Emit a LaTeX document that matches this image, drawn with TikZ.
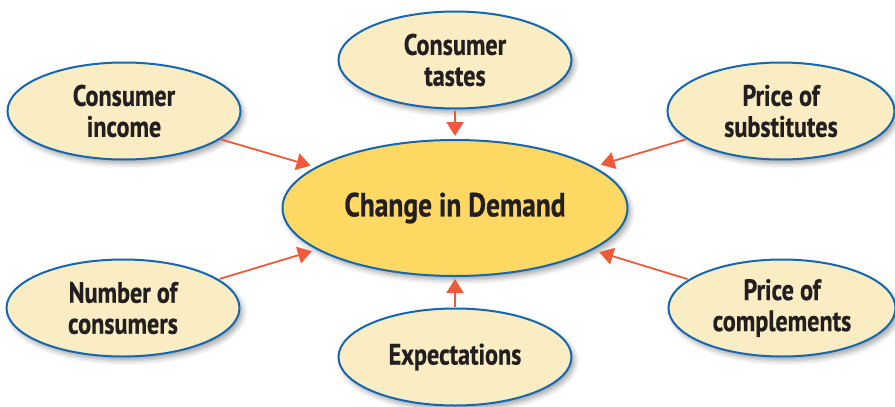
\documentclass[tikz,border=0pt]{standalone}
\usepackage{fontspec}
\setmainfont{PT Sans}[FakeStretch=0.82, BoldFeatures={FakeBold=0.6}]
\usetikzlibrary{shapes.geometric,arrows.meta,shadows.blur}
\definecolor{ringblue}{HTML}{1467B0}
\definecolor{cream}{HTML}{FBEDC3}
\definecolor{gold}{HTML}{FDD964}
\definecolor{arrowred}{HTML}{EE5A3A}
\definecolor{inkdark}{HTML}{231F20}
\tikzset{
  factor/.style={ellipse, draw=ringblue, line width=2pt, fill=cream,
    minimum width=233pt, minimum height=97pt, inner sep=0pt,
    align=center, text=inkdark,
    font=\bfseries\fontsize{29.5}{31}\selectfont,
    blur shadow={shadow xshift=3pt, shadow yshift=-4pt, shadow blur radius=5pt, shadow opacity=35}},
  hub/.style={factor, fill=gold, minimum width=345pt, minimum height=136pt,
    font=\bfseries\fontsize{33.5}{36}\selectfont},
  link/.style={draw=arrowred, line width=1.8pt,
    -{Triangle[length=14pt,width=17pt]}, shorten <=1pt, shorten >=5pt}
}
\begin{document}
\begin{tikzpicture}[x=1pt,y=-1pt]
\useasboundingbox (0,0) rectangle (895,407);
\node[hub] (cid) at (455,208) {Change in Demand};
\node[factor] (inc) at (124,111) {Consumer\\income};
\node[factor] (tas) at (455,60) {Consumer\\tastes};
\node[factor, minimum width=227pt] (sub) at (781,111) {Price of\\substitutes};
\node[factor] (num) at (123,308) {Number of\\consumers};
\node[factor] (exp) at (455,357) {Expectations};
\node[factor, minimum width=227pt] (cmp) at (782,308) {Price of\\complements};
\draw[link] (inc) -- (cid);
\draw[link, shorten >=3pt] (tas) -- (cid);
\draw[link, shorten >=7pt] (sub) -- (cid);
\draw[link] (num) -- (cid);
\draw[link, shorten >=2pt] (exp) -- (cid);
\draw[link, shorten >=7pt] (cmp) -- (cid);
\end{tikzpicture}
\end{document}
